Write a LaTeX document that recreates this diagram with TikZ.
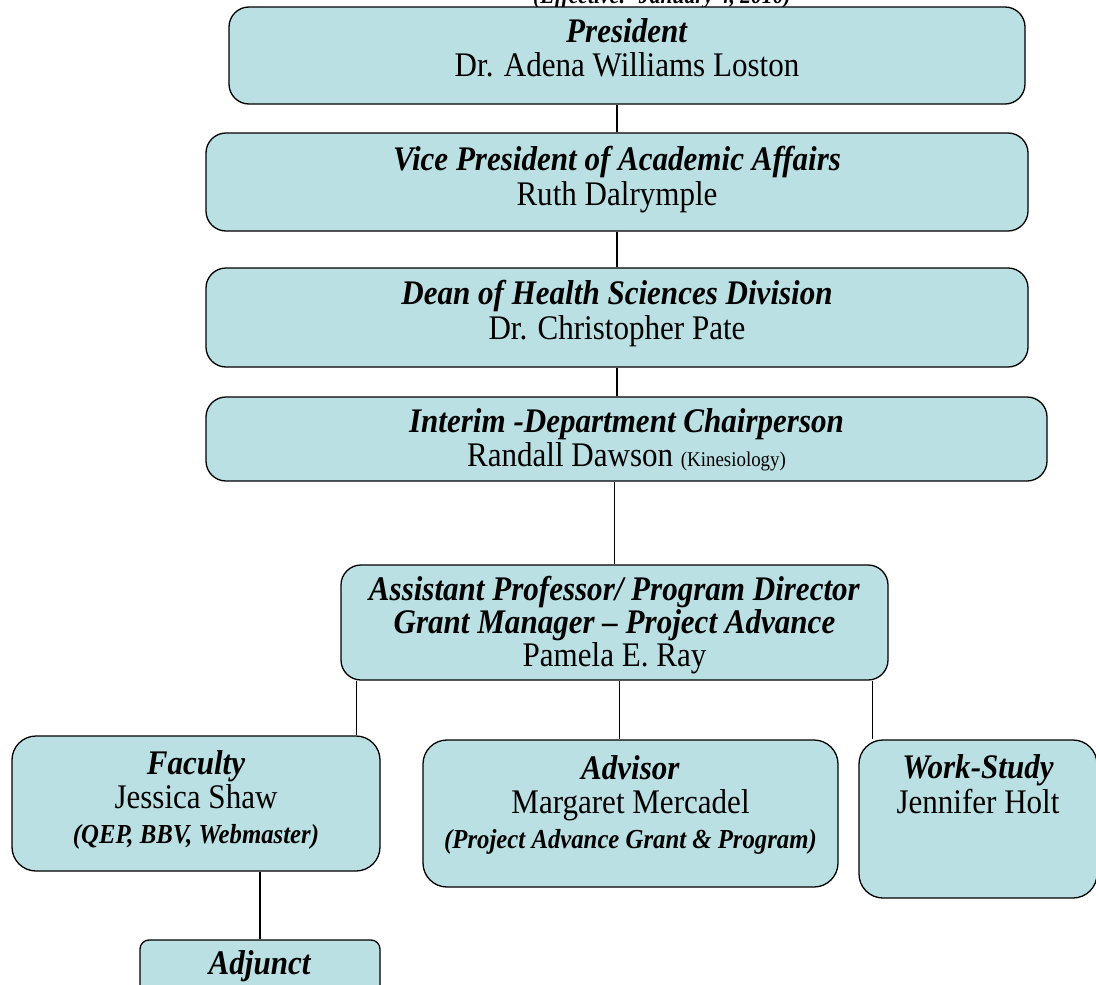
\documentclass[tikz,border=0pt]{standalone}
\usepackage{fontspec}
\setmainfont[FakeStretch=0.9]{Liberation Serif}
\usepackage{tikz}
\usetikzlibrary{positioning}
\definecolor{orgfill}{RGB}{186,224,227}
\newcommand{\orgsize}{\fontsize{34.5}{34.5}\selectfont}
\newcommand{\orgtitle}[1]{\textbf{\textit{#1}}}
\newcommand{\orgnote}[1]{{\fontsize{27.5}{34.5}\selectfont\textbf{\textit{#1}}}}

\begin{document}
\begin{tikzpicture}[x=1pt,y=-1pt]
\tikzset{orgbox/.style={draw=black,line width=1.3pt,fill=orgfill,rounded corners=20pt,inner sep=0pt}}
\tikzset{orgtext/.style={anchor=north,align=center,inner sep=0pt,font=\orgsize}}
\tikzset{orgline/.style={draw=black,line width=1.4pt}}
\useasboundingbox (0,0) rectangle (1096,985);
%\fill[white] (0,0) rectangle (1096,985);
\node[anchor=base,inner sep=0pt,font=\fontsize{24}{26}\selectfont] (eff) at (662,3.5) {\orgtitle{(Effective:~ January 4, 2010)}};

\node[orgbox,minimum width=796pt,minimum height=97pt] (pres) at (627,55.5) {};
\node[orgtext] (pres-t) at ([yshift=-12pt]pres.north) {\orgtitle{President}\\Dr. Adena Williams Loston};

\node[orgbox,minimum width=822pt,minimum height=98pt] (vp) at (617,182) {};
\node[orgtext] (vp-t) at ([yshift=-14pt]vp.north) {\orgtitle{Vice President of Academic Affairs}\\Ruth Dalrymple};

\node[orgbox,minimum width=822pt,minimum height=99pt] (dean) at (617,317.5) {};
\node[orgtext] (dean-t) at ([yshift=-13pt]dean.north) {\orgtitle{Dean of Health Sciences Division}\\Dr. Christopher Pate};

\node[orgbox,minimum width=841pt,minimum height=84pt] (chair) at (626.5,439) {};
\node[orgtext] (chair-t) at ([yshift=-12pt]chair.north) {\orgtitle{Interim -Department Chairperson}\\Randall Dawson {\fontsize{21}{34.5}\selectfont (Kinesiology)}};

\node[orgbox,minimum width=547pt,minimum height=115pt] (asst) at (614.5,622.5) {};
\node[orgtext,font=\fontsize{34.5}{33}\selectfont] (asst-t) at ([yshift=-12pt]asst.north) {\orgtitle{Assistant Professor/ Program Director}\\\orgtitle{Grant Manager -- Project Advance}\\Pamela E. Ray};

\node[orgbox,rounded corners=24pt,minimum width=368pt,minimum height=135pt] (fac) at (196,803.5) {};
\node[orgtext] (fac-t) at ([yshift=-15pt]fac.north) {\orgtitle{Faculty}\\Jessica Shaw\\\orgnote{(QEP, BBV, Webmaster)}};

\node[orgbox,rounded corners=24pt,minimum width=415pt,minimum height=147pt] (adv) at (630.5,813.5) {};
\node[orgtext] (adv-t) at ([yshift=-16pt]adv.north) {\orgtitle{Advisor}\\Margaret Mercadel\\\orgnote{(Project Advance Grant \& Program)}};

\node[orgbox,rounded corners=24pt,minimum width=238pt,minimum height=158pt] (work) at (978,819) {};
\node[orgtext] (work-t) at ([yshift=-15.5pt]work.north) {\orgtitle{Work-Study}\\Jennifer Holt};

\node[orgbox,rounded corners=9pt,minimum width=240pt,minimum height=80pt] (adj) at (260,980) {};
\node[orgtext] (adj-t) at ([yshift=-11.5pt]adj.north) {\orgtitle{Adjunct}};

\coordinate (fac-in) at ([xshift=-24pt]fac.north east);
\coordinate (adv-in) at ([xshift=5pt]asst.south);
\coordinate (work-in) at ([xshift=14pt]work.north west);

\draw[orgline] (pres.south -| vp.north) -- (vp.north);
\draw[orgline] (vp.south) -- (dean.north);
\draw[orgline] (dean.south) -- (dean.south |- chair.north);
\draw[orgline] (asst.north |- chair.south) -- (asst.north);
\draw[orgline] (fac-in |- asst.south) -- (fac-in);
\draw[orgline] (adv-in) -- (adv-in |- adv.north);
\draw[orgline] (work-in |- asst.south) -- (work-in);
\draw[orgline] (adj.north |- fac.south) -- (adj.north);
\end{tikzpicture}
\end{document}
